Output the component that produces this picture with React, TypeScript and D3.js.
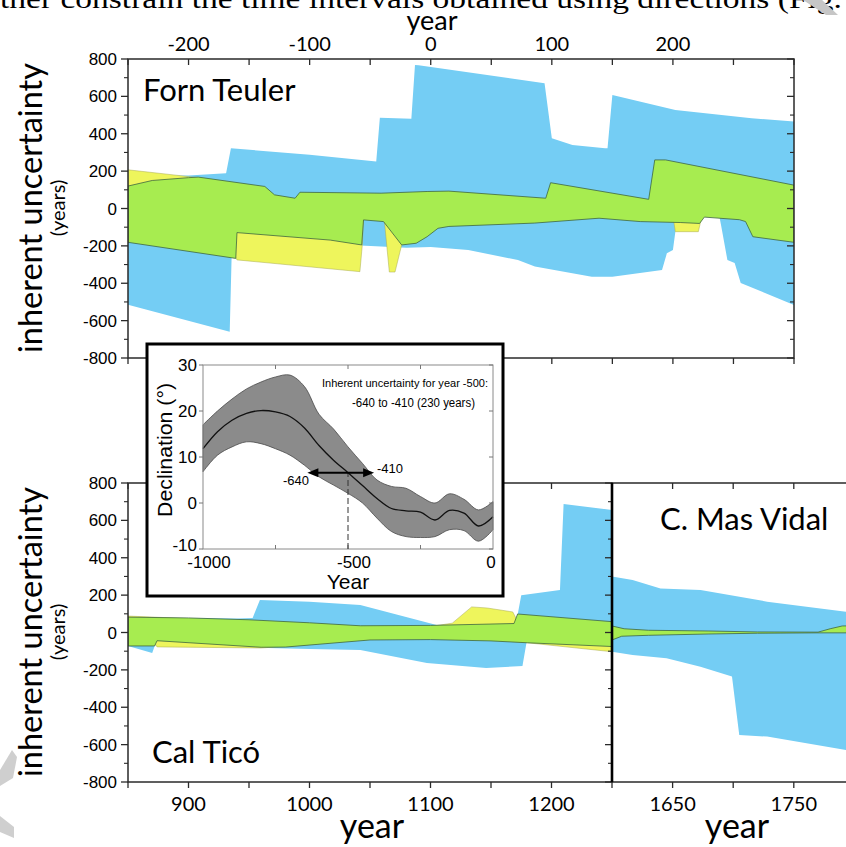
import React from "react";
import * as d3 from "d3";

type Pt = [number, number];

const BLUE = "#74cdf4";
const YELLOW = "#eef55c";
const GREEN = "#a7ec50";
const GREEN_EDGE = "#3f6640";
const YELLOW_EDGE = "#a9ab55";
const AX = "#2a2a2a";
const CAL = "Lato, 'Open Sans', sans-serif";
const ARIAL = "'Liberation Sans', Arial, sans-serif";

// Forn Teuler  [year, years of uncertainty]
const fornBlueUpper: Pt[] = [[-250, 172], [-200, 176], [-169, 188], [-165, 322], [-100, 288], [-45, 252], [-42, 486], [-16, 480], [-13, 768], [-10, 766], [94, 670], [100, 376], [117, 340], [144, 322], [146, 322], [150, 607], [202, 527], [265, 483], [300, 465]];
const fornBlueLower: Pt[] = [[-250, -515], [-166, -659], [-164, -150], [-60, -150], [-58, -198], [-20, -210], [0, -206], [31, -222], [72, -276], [86, -311], [133, -365], [150, -365], [191, -329], [195, -240], [200, -222], [204, -30], [238, -30], [240, -97], [245, -276], [251, -292], [256, -399], [300, -516]];
const fornYellowUpper: Pt[] = [[-250, 207], [-192, 165], [-165, 40], [300, 0]];
const fornYellowLower: Pt[] = [[-250, -170], [-162, -250], [-160, -275], [-60, -337], [-58.5, -338], [-56.5, -195], [-55.5, -50], [-38.5, -50], [-34.2, -340], [-29.5, -340], [-24, -195], [-22, -100], [10, -60], [100, -40], [150, -30], [200, -40], [202, -124], [221, -124], [224, -40], [260, -50], [300, -100]];
const fornGreenUpper: Pt[] = [[-250, 120], [-230, 150], [-200, 165], [-192, 168], [-137, 118], [-129, 73], [-112, 55], [-108, 87], [-41, 82], [-3, 91], [15, 93], [95, 55], [99, 138], [180, 49], [185, 260], [194, 260], [300, 125]];
const fornGreenLower: Pt[] = [[-250, -181], [-161, -267], [-160, -129], [-83, -169], [-57, -195], [-55.5, -61], [-39, -70], [-24, -195], [-12, -186], [-3, -151], [6, -106], [15, -96], [86, -78], [139, -52], [173, -70], [206, -75], [222, -80], [226, -46], [255, -60], [260, -70], [266, -151], [300, -181]];

// Cal Ticó
const ctBlueUpper: Pt[] = [[850, 80], [940, 75], [953, 78], [959, 174], [1000, 165], [1042, 147], [1105, 40], [1150, 45], [1171, 60], [1175, 200], [1207, 227], [1210, 688], [1250, 656]];
const ctBlueLower: Pt[] = [[850, -72], [870, -110], [873, -55], [955, -65], [965, -83], [1000, -88], [1042, -94], [1097, -163], [1146, -190], [1176, -179], [1180, -30], [1250, -30]];
const ctYellowUpper: Pt[] = [[850, 88], [880, 80], [950, 60], [1000, 42], [1040, 33], [1100, 32], [1118, 50], [1134, 137], [1147, 131], [1168, 110], [1172, 60], [1250, 40]];
const ctYellowLower: Pt[] = [[850, -60], [872, -60], [874, -77], [960, -83], [990, -70], [1050, -35], [1100, -30], [1150, -40], [1180, -55], [1250, -103]];
const ctGreenUpper: Pt[] = [[850, 82], [900, 78], [950, 68], [1000, 52], [1042, 36], [1100, 38], [1169, 48], [1172, 99], [1250, 58]];
const ctGreenLower: Pt[] = [[850, -72], [872, -72], [874, -44], [960, -79], [980, -78], [1050, -40], [1100, -38], [1150, -45], [1180, -55], [1250, -75]];

// C. Mas Vidal
const mvBlueUpper: Pt[] = [[1600, 299], [1617, 281], [1640, 236], [1673, 227], [1728, 165], [1793, 111], [1850, 80]];
const mvBlueLower: Pt[] = [[1600, -103], [1617, -120], [1645, -138], [1673, -183], [1699, -236], [1705, -549], [1728, -557], [1793, -629], [1850, -660]];
const mvGreenUpper: Pt[] = [[1600, 35], [1610, 20], [1630, 12], [1680, 8], [1720, 3], [1770, 2], [1780, 20], [1790, 35], [1850, 40]];
const mvGreenLower: Pt[] = [[1600, -40], [1608, -20], [1630, -15], [1680, -8], [1720, -4], [1770, -2], [1850, -2]];

// inset: declination curve
const inYears = [-1000, -950, -900, -850, -800, -750, -700, -650, -600, -550, -500, -450, -400, -350, -300, -250, -200, -150, -100, -50, 0];
const inUpper = [17, 20, 22.6, 24.8, 26.3, 27.4, 27.8, 25.3, 19.3, 16.1, 12.2, 8.6, 5, 3.6, 3.2, 1.4, 0, 2.0, 0.8, -1.5, 0.3];
const inCenter = [11.8, 15.5, 18, 19.5, 20.1, 19.8, 18.8, 16.3, 12.5, 9.3, 6.6, 3.8, 1.0, -1.2, -1.7, -2.0, -3.7, -1.6, -2.2, -5.0, -3.0];
const inLower = [6.8, 10.4, 12.2, 13.3, 12.9, 11.8, 10.4, 8.2, 5.7, 3.9, 2.1, 0, -3.3, -6.2, -7.3, -7.5, -7.3, -5.8, -6.0, -8.3, -5.8];

const yMajor = d3.range(-800, 801, 200);
const yMinor = d3.range(-700, 800, 200);

function band(upper: Pt[], lower: Pt[], x: any, y: any) {
  const pts = [...upper, ...lower.slice().reverse()].map(
    ([a, v]) => [x(a), y(v)] as [number, number]
  );
  return d3.line()(pts) + "Z";
}

function Bands({ id, x, y, bu, bl, yu, yl, gu, gl }: any) {
  const [x0, x1] = x.range();
  const [yb, yt] = y.range();
  return (
    <g>
      <clipPath id={id}>
        <rect x={x0} y={yt} width={x1 - x0} height={yb - yt} />
      </clipPath>
      <g clipPath={`url(#${id})`}>
        <path d={band(bu, bl, x, y)} fill={BLUE} />
        {yu && <path d={band(yu, yl, x, y)} fill={YELLOW} stroke={YELLOW_EDGE} strokeWidth={0.5} />}
        <path d={band(gu, gl, x, y)} fill={GREEN} stroke={GREEN_EDGE} strokeWidth={0.8} />
      </g>
    </g>
  );
}

function Frame({ x, y, ticks, labels, left, right, topLabels }: any) {
  const [x0, x1] = x.range();
  const [yb, yt] = y.range();
  return (
    <g>
      <rect x={x0} y={yt} width={x1 - x0} height={yb - yt} fill="none" stroke={AX} strokeWidth={1.5} />
      {ticks.map((t: number) => (
        <g key={t}>
          <line x1={x(t)} x2={x(t)} y1={yt} y2={yt + 6} stroke={AX} strokeWidth={1.3} />
          <line x1={x(t)} x2={x(t)} y1={yb} y2={yb + 6} stroke={AX} strokeWidth={1.3} />
        </g>
      ))}
      {labels.map((t: number) => (
        <text key={t} x={x(t)} y={topLabels ? yt - 8 : yb + 29} textAnchor="middle" fontFamily={CAL} fontSize={20}>
          {t}
        </text>
      ))}
      {left && (
        <g>
          {yMajor.map((v) => (
            <line key={v} x1={x0 - 7} x2={x0} y1={y(v)} y2={y(v)} stroke={AX} strokeWidth={1.3} />
          ))}
          {yMinor.map((v) => (
            <line key={v} x1={x0 - 4} x2={x0} y1={y(v)} y2={y(v)} stroke={AX} strokeWidth={1.1} />
          ))}
          {yMajor.map((v) => (
            <text key={v} x={x0 - 11} y={y(v)} dy="0.36em" textAnchor="end" fontFamily={ARIAL} fontSize={17}>
              {v}
            </text>
          ))}
        </g>
      )}
      {right && (
        <g>
          {yMajor.map((v) => (
            <line key={v} x1={x1 - 7} x2={x1} y1={y(v)} y2={y(v)} stroke={AX} strokeWidth={1.3} />
          ))}
          {yMinor.map((v) => (
            <line key={v} x1={x1 - 4} x2={x1} y1={y(v)} y2={y(v)} stroke={AX} strokeWidth={1.1} />
          ))}
        </g>
      )}
    </g>
  );
}

function YLabel({ cy }: { cy: number }) {
  return (
    <g>
      <text transform={`translate(42,${cy}) rotate(-90)`} textAnchor="middle" fontFamily={CAL} fontSize={33} textLength={290} lengthAdjust="spacingAndGlyphs">
        inherent uncertainty
      </text>
      <text transform={`translate(65,${cy}) rotate(-90)`} textAnchor="middle" fontFamily={CAL} fontSize={20}>
        (years)
      </text>
    </g>
  );
}

function Inset() {
  const x = d3.scaleLinear().domain([-1000, 0]).range([203, 493]);
  const y = d3.scaleLinear().domain([-10, 30]).range([549, 365]);
  const rows = inYears.map((yr, i) => ({ yr, u: inUpper[i], c: inCenter[i], l: inLower[i] }));
  const area = d3
    .area<any>()
    .x((d) => x(d.yr))
    .y0((d) => y(d.l))
    .y1((d) => y(d.u))
    .curve(d3.curveCatmullRom);
  const mid = d3
    .line<any>()
    .x((d) => x(d.yr))
    .y((d) => y(d.c))
    .curve(d3.curveCatmullRom);
  const ay = y(6.6);
  const ax0 = x(-640);
  const ax1 = x(-410);
  return (
    <g>
      <rect x={147} y={344} width={356} height={252} fill="#fff" stroke="#000" strokeWidth={3} />
      <path d={area(rows) || ""} fill="#8b8b8b" stroke="#4a4a4a" strokeWidth={0.8} />
      <path d={mid(rows) || ""} fill="none" stroke="#111" strokeWidth={1.3} />
      <rect x={203} y={365} width={290} height={184} fill="none" stroke="#8a8a8a" strokeWidth={1} />
      {[-750, -500, -250].map((t) => (
        <g key={t}>
          <line x1={x(t)} x2={x(t)} y1={549} y2={545} stroke="#777" />
          <line x1={x(t)} x2={x(t)} y1={365} y2={369} stroke="#777" />
        </g>
      ))}
      {[30, 20, 10, 0, -10].map((v) => (
        <g key={v}>
          <line x1={199} x2={203} y1={y(v)} y2={y(v)} stroke="#777" />
          <line x1={489} x2={493} y1={y(v)} y2={y(v)} stroke="#777" />
          <text x={197} y={y(v)} dy={v === -10 ? "0.12em" : "0.38em"} textAnchor="end" fontFamily={ARIAL} fontSize={17}>
            {v}
          </text>
        </g>
      ))}
      {[-1000, -500, 0].map((t) => (
        <text key={t} x={t === 0 ? x(t) - 2 : x(t) + 6} y={568} textAnchor="middle" fontFamily={ARIAL} fontSize={17}>
          {t}
        </text>
      ))}
      <text x={348} y={589} textAnchor="middle" fontFamily={ARIAL} fontSize={21}>
        Year
      </text>
      <text transform="translate(172,450) rotate(-90)" textAnchor="middle" fontFamily={ARIAL} fontSize={20} textLength={134} lengthAdjust="spacingAndGlyphs">
        Declination (°)
      </text>
      <line x1={x(-500)} x2={x(-500)} y1={549} y2={ay} stroke="#333" strokeWidth={1} strokeDasharray="6,3" />
      <line x1={ax0 + 8} x2={ax1 - 8} y1={ay} y2={ay} stroke="#000" strokeWidth={2} />
      <path d={`M${ax0},${ay}L${ax0 + 11},${ay - 4.5}L${ax0 + 11},${ay + 4.5}Z`} fill="#000" />
      <path d={`M${ax1},${ay}L${ax1 - 11},${ay - 4.5}L${ax1 - 11},${ay + 4.5}Z`} fill="#000" />
      <text x={283} y={485} fontFamily={ARIAL} fontSize={13}>-640</text>
      <text x={377} y={473} fontFamily={ARIAL} fontSize={13}>-410</text>
      <text x={322} y={387} fontFamily={ARIAL} fontSize={11} textLength={166} lengthAdjust="spacingAndGlyphs">
        Inherent uncertainty for year -500:
      </text>
      <text x={352} y={407} fontFamily={ARIAL} fontSize={12.5} textLength={123} lengthAdjust="spacingAndGlyphs">
        -640 to -410 (230 years)
      </text>
    </g>
  );
}

export default function App() {
  const xTop = d3.scaleLinear().domain([-250, 300]).range([128, 794]);
  const yTop = d3.scaleLinear().domain([-800, 800]).range([358, 59]);
  const xCT = d3.scaleLinear().domain([850, 1250]).range([128, 612]);
  const xMV = d3.scaleLinear().domain([1600, 1850]).range([612, 915]);
  const yBot = d3.scaleLinear().domain([-800, 800]).range([782, 483]);

  return (
    <div>
      <style>{"body{margin:0}"}</style>
      <svg width={846} height={847} style={{ display: "block", background: "#fff" }}>
        <text x={0} y={8} fontFamily="'Liberation Serif', serif" fontSize={28} textLength={842} lengthAdjust="spacingAndGlyphs">
          ther constrain the time intervals obtained using directions (Fig.
        </text>
        <polygon points="803,0 822,0 838,15 826,15" fill="#c6c6c6" />
        <polygon points="0,770 12,750 17,757 13,778 0,786" fill="#cfcfcf" />
        <polygon points="0,816 14,827 14,838 0,832" fill="#cfcfcf" />

        {/* top panel */}
        <Bands id="c-forn" x={xTop} y={yTop} bu={fornBlueUpper} bl={fornBlueLower} yu={fornYellowUpper} yl={fornYellowLower} gu={fornGreenUpper} gl={fornGreenLower} />
        <Frame x={xTop} y={yTop} ticks={d3.range(-250, 301, 50)} labels={[-200, -100, 0, 100, 200]} left right topLabels />
        <text x={432} y={30} textAnchor="middle" fontFamily={CAL} fontSize={27}>year</text>
        <text x={143} y={101} fontFamily={CAL} fontSize={31}>Forn Teuler</text>
        <YLabel cy={208} />

        {/* bottom left */}
        <Bands id="c-ct" x={xCT} y={yBot} bu={ctBlueUpper} bl={ctBlueLower} yu={ctYellowUpper} yl={ctYellowLower} gu={ctGreenUpper} gl={ctGreenLower} />
        <Frame x={xCT} y={yBot} ticks={d3.range(850, 1251, 50)} labels={[900, 1000, 1100, 1200]} left right />
        <text x={152} y={763} fontFamily={CAL} fontSize={31}>Cal Ticó</text>
        <text x={372} y={838} textAnchor="middle" fontFamily={CAL} fontSize={34}>year</text>
        <YLabel cy={632} />

        {/* bottom right */}
        <Bands id="c-mv" x={xMV} y={yBot} bu={mvBlueUpper} bl={mvBlueLower} gu={mvGreenUpper} gl={mvGreenLower} />
        <Frame x={xMV} y={yBot} ticks={d3.range(1650, 1851, 50)} labels={[1650, 1750]} />
        <line x1={612} x2={612} y1={483} y2={782} stroke="#000" strokeWidth={2.6} />
        <text x={660} y={530} fontFamily={CAL} fontSize={31}>C. Mas Vidal</text>
        <text x={737} y={838} textAnchor="middle" fontFamily={CAL} fontSize={34}>year</text>

        <Inset />
      </svg>
    </div>
  );
}
